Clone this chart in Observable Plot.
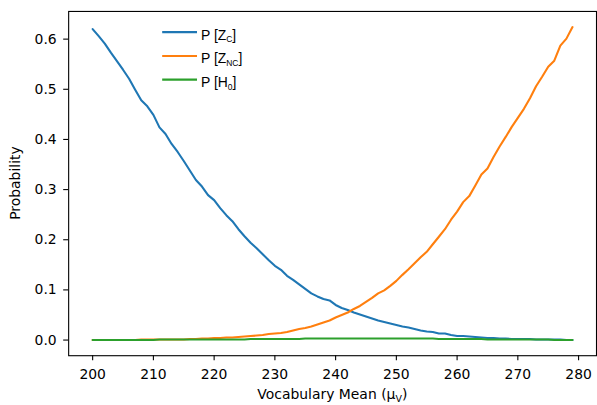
<!DOCTYPE html>
<html><head><meta charset="utf-8">
<script src="https://cdn.jsdelivr.net/npm/d3@7"></script>
<script src="https://cdn.jsdelivr.net/npm/@observablehq/plot@0.6"></script>
<style>html,body{margin:0;background:#fff;overflow:hidden}#chart{width:597px;height:405px;overflow:hidden}#chart svg{display:block}</style>
</head><body><div id="chart"></div>
<script>
const vocabMean = d3.range(200, 280);
const pZC = [0.620,0.606,0.591,0.573,0.556,0.539,0.521,0.499,0.478,0.466,
0.449,0.424,0.411,0.391,0.375,0.357,0.338,0.319,0.306,0.289,
0.279,0.263,0.249,0.237,0.221,0.207,0.194,0.183,0.171,0.159,
0.148,0.140,0.128,0.120,0.111,0.102,0.093,0.087,0.082,0.079,
0.070,0.064,0.060,0.055,0.051,0.047,0.043,0.039,0.036,0.033,
0.030,0.027,0.025,0.022,0.019,0.017,0.016,0.013,0.013,0.010,
0.008,0.008,0.007,0.006,0.005,0.004,0.004,0.003,0.003,0.002,
0.002,0.002,0.002,0.001,0.001,0.001,0.001,0.001,0.000,0.000];
const pZNC = [0.000,0.000,0.000,0.000,0.000,0.000,0.000,0.000,0.001,0.001,
0.001,0.001,0.001,0.001,0.001,0.001,0.002,0.002,0.003,0.003,
0.004,0.004,0.005,0.005,0.006,0.007,0.008,0.009,0.010,0.012,
0.013,0.014,0.016,0.019,0.022,0.024,0.027,0.031,0.035,0.039,
0.045,0.050,0.055,0.062,0.068,0.076,0.084,0.093,0.099,0.108,
0.118,0.130,0.141,0.153,0.165,0.176,0.191,0.206,0.221,0.240,
0.256,0.275,0.287,0.308,0.330,0.342,0.365,0.386,0.405,0.425,
0.443,0.461,0.482,0.506,0.525,0.545,0.557,0.587,0.601,0.624];
const pH0 = [0.000,0.000,0.000,0.000,0.000,0.000,0.000,0.000,0.000,0.000,
0.000,0.001,0.001,0.001,0.001,0.001,0.001,0.001,0.001,0.001,
0.001,0.001,0.001,0.001,0.001,0.001,0.002,0.002,0.002,0.002,
0.002,0.002,0.002,0.002,0.002,0.003,0.003,0.003,0.003,0.003,
0.003,0.003,0.003,0.003,0.003,0.003,0.003,0.003,0.003,0.003,
0.003,0.003,0.003,0.003,0.003,0.003,0.003,0.002,0.002,0.002,
0.002,0.002,0.002,0.002,0.002,0.001,0.001,0.001,0.001,0.001,
0.001,0.001,0.001,0.001,0.001,0.001,0.000,0.000,0.000,0.000];
const seriesKeys = ["ZC", "ZNC", "H0"];
const seriesColors = ["#1f77b4", "#ff7f0e", "#2ca02c"];
const legendMain = ["P [Z", "P [Z", "P [H"];
const legendSub = ["C", "NC", "0"];
const xTicks = [200,210,220,230,240,250,260,270,280];
const yTicks = [0.0,0.1,0.2,0.3,0.4,0.5,0.6];

const seriesValues = [pZC, pZNC, pH0];
const rows = [];
seriesKeys.forEach((k, i) => vocabMean.forEach((x, j) => rows.push({series: k, x, y: seriesValues[i][j]})));

const chart = Plot.plot({
  width: 600, height: 405,
  marginLeft: 68.5, marginRight: 1, marginTop: 11, marginBottom: 48,
  style: {fontFamily: "DejaVu Sans", fontSize: "14px", color: "black", background: "white", overflow: "hidden"},
  x: {domain: [196.05, 282.95], label: null},
  y: {domain: [-0.0312, 0.6552], label: null},
  color: {domain: seriesKeys, range: seriesColors},
  marks: [
    Plot.line(rows, {x: "x", y: "y", z: "series", stroke: "series", strokeWidth: 2.1}),
    Plot.frame({stroke: "black", strokeWidth: 1.1}),
    Plot.axisX({ticks: xTicks, tickFormat: d => String(d), tickSize: 5, tickPadding: 8, label: null,
      fontSize: 14, fontFamily: "DejaVu Sans", fill: "black", stroke: "black", strokeWidth: 1.1}),
    Plot.axisY({ticks: yTicks, tickFormat: ".1f", tickSize: 5, tickPadding: 7, label: null,
      fontSize: 14, fontFamily: "DejaVu Sans", fill: "black", stroke: "black", strokeWidth: 1.1})
  ]
});
document.getElementById("chart").appendChild(chart);

const svg = d3.select(chart);
// axis titles
const xt = svg.append("text").attr("x", 334).attr("y", 401).attr("text-anchor", "middle")
  .attr("font-family", "DejaVu Sans").attr("font-size", 14).attr("fill", "black");
xt.append("tspan").text("Vocabulary Mean (");
xt.append("tspan").text("\u03bc");
xt.append("tspan").attr("font-size", 9.5).attr("dy", 3).text("V");
xt.append("tspan").attr("dy", -3).text(")");
svg.append("text").attr("transform", "translate(20,184) rotate(-90)").attr("text-anchor", "middle")
  .attr("font-family", "DejaVu Sans").attr("font-size", 14).attr("fill", "black").text("Probability");

// legend
const ly = [32.3, 56.3, 80];
seriesKeys.forEach((k, i) => {
  svg.append("line").attr("x1", 163).attr("x2", 198).attr("y1", ly[i]).attr("y2", ly[i])
    .attr("stroke", seriesColors[i]).attr("stroke-width", 2.1);
  const t = svg.append("text").attr("x", 202).attr("y", ly[i] + 7.5).attr("text-anchor", "start")
    .attr("font-family", "Liberation Sans").attr("font-size", 14).attr("fill", "black");
  t.append("tspan").text(legendMain[i]);
  t.append("tspan").attr("font-size", 8.5).attr("dy", 2.5).text(legendSub[i]);
  t.append("tspan").attr("dy", -2.5).text("]");
});
</script></body></html>
